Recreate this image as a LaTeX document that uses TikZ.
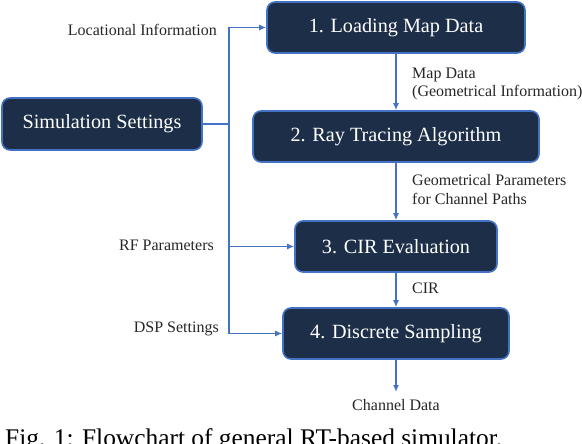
\documentclass[tikz,border=0pt]{standalone}
\usepackage{fontspec}
\setmainfont{Liberation Serif}
\usetikzlibrary{arrows.meta}
\definecolor{boxfill}{HTML}{1D2F48}
\definecolor{boxedge}{HTML}{4472C4}
\definecolor{linec}{HTML}{4472C4}
\tikzset{
  stepbox/.style={draw=boxedge, line width=1.6pt, fill=boxfill, rounded corners=8pt,
    text=white, font=\fontsize{20.2}{24}\selectfont, minimum height=51pt, inner sep=0pt},
  conn/.style={draw=linec, line width=1.3pt},
  arr/.style={conn, -{Latex[length=7pt,width=6pt]}},
  lbl/.style={font=\fontsize{16}{18.5}\selectfont, inner sep=0pt, text=black!85},
}
\begin{document}
\begin{tikzpicture}[x=1pt,y=-1pt]
\useasboundingbox (0,0) rectangle (582,444);
\clip (0,0) rectangle (582,444);
\node[stepbox, minimum width=258pt] (b1) at (396,27.5) {1. Loading Map Data};
\node[stepbox, minimum width=286pt] (b2) at (396,136.5) {2. Ray Tracing Algorithm};
\node[stepbox, minimum width=202pt] (b3) at (396,246.5) {3. CIR Evaluation};
\node[stepbox, minimum width=226pt] (b4) at (396,333.5) {4. Discrete Sampling};
\node[stepbox, minimum width=200pt, minimum height=52pt] (sim) at (102,124) {Simulation Settings};
\coordinate (j) at (229,124);
\coordinate (out) at (396,392);
\draw[conn] (sim.east) -- (j);
\draw[arr] (j) |- (b1.west);
\draw[arr] (j) |- (b3.west);
\draw[arr] (j) |- (b4.west);
\draw[arr] (b1.south) -- (b2.north);
\draw[arr] (b2.south) -- (b3.north);
\draw[arr] (b3.south) -- (b4.north);
\draw[arr] (b4.south) -- (out);
\node[lbl, anchor=east] (l1) at (217,30) {Locational Information};
\node[lbl, anchor=east] (l2) at (214,245) {RF Parameters};
\node[lbl, anchor=east] (l3) at (219,329) {DSP Settings};
\node[lbl, anchor=west, align=left] (l4) at (412,84) {Map Data\\(Geometrical Information)};
\node[lbl, anchor=west, align=left] (l5) at (412,189.5) {Geometrical Parameters\\for Channel Paths};
\node[lbl, anchor=west] (l6) at (412,288) {CIR};
\node[lbl, anchor=north] (l7) at (396,399) {Channel Data};
\node[anchor=base west, inner sep=0pt, font=\fontsize{25.4}{30}\selectfont] (cap) at (5,446) {Fig. 1: Flowchart of general RT-based simulator.};
\end{tikzpicture}
\end{document}
